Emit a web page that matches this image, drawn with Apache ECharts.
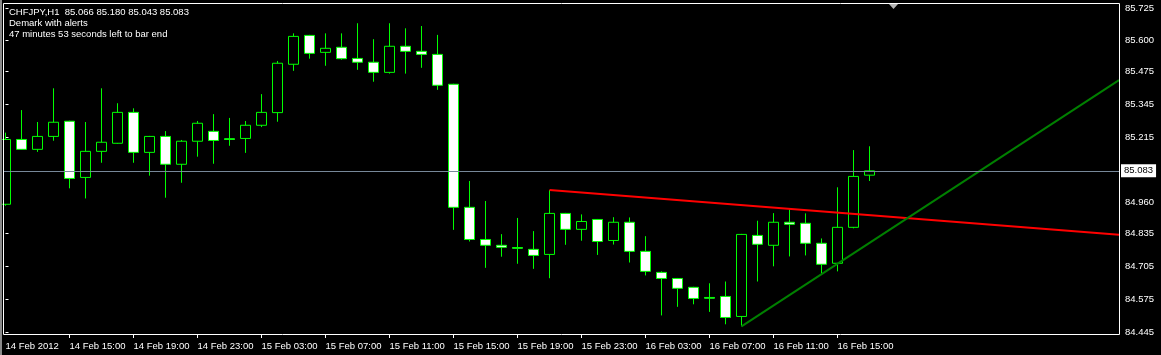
<!DOCTYPE html>
<html>
<head>
<meta charset="utf-8">
<script src="https://cdn.jsdelivr.net/npm/echarts@6/dist/echarts.min.js"></script>
<style>html,body{margin:0;padding:0;background:#000;}#c{width:1161px;height:355px;}</style>
</head>
<body>
<div id="c"></div>
<script>
// Bar times (H1), index 0 = 14 Feb 2012 11:00
const categories = [
 '14 Feb 11:00','14 Feb 12:00','14 Feb 13:00','14 Feb 14:00','14 Feb 15:00','14 Feb 16:00','14 Feb 17:00','14 Feb 18:00',
 '14 Feb 19:00','14 Feb 20:00','14 Feb 21:00','14 Feb 22:00','14 Feb 23:00','15 Feb 00:00','15 Feb 01:00','15 Feb 02:00',
 '15 Feb 03:00','15 Feb 04:00','15 Feb 05:00','15 Feb 06:00','15 Feb 07:00','15 Feb 08:00','15 Feb 09:00','15 Feb 10:00',
 '15 Feb 11:00','15 Feb 12:00','15 Feb 13:00','15 Feb 14:00','15 Feb 15:00','15 Feb 16:00','15 Feb 17:00','15 Feb 18:00',
 '15 Feb 19:00','15 Feb 20:00','15 Feb 21:00','15 Feb 22:00','15 Feb 23:00','16 Feb 00:00','16 Feb 01:00','16 Feb 02:00',
 '16 Feb 03:00','16 Feb 04:00','16 Feb 05:00','16 Feb 06:00','16 Feb 07:00','16 Feb 08:00','16 Feb 09:00','16 Feb 10:00',
 '16 Feb 11:00','16 Feb 12:00','16 Feb 13:00','16 Feb 14:00','16 Feb 15:00','16 Feb 16:00','16 Feb 17:00'
];
const opens = [
 84.951,85.207,85.168,85.219,85.279,85.057,85.160,85.192,85.314,85.156,
 85.219,85.109,85.200,85.239,85.210,85.211,85.263,85.313,85.504,85.618,
 85.551,85.571,85.527,85.512,85.472,85.575,85.555,85.543,85.425,84.939,
 84.812,84.789,84.780,84.773,84.753,84.915,84.852,84.891,84.808,84.880,
 84.765,84.682,84.658,84.623,84.583,84.587,84.508,84.828,84.789,84.880,
 84.876,84.797,84.718,84.860,85.066
];
const highs = [
 85.234,85.323,85.276,85.409,85.281,85.276,85.409,85.350,85.330,85.221,
 85.240,85.205,85.280,85.307,85.292,85.280,85.386,85.517,85.626,85.620,
 85.626,85.626,85.666,85.603,85.666,85.646,85.655,85.620,85.427,85.043,
 84.964,84.833,84.897,84.845,85.007,84.917,84.911,84.893,84.900,84.899,
 84.825,84.686,84.660,84.625,84.639,84.646,84.834,84.886,84.916,84.931,
 84.915,84.816,85.018,85.165,85.180
];
const lows = [
 84.945,85.166,85.158,85.202,85.014,84.974,85.115,85.190,85.115,85.064,
 84.977,85.036,85.139,85.111,85.182,85.154,85.256,85.277,85.478,85.526,
 85.498,85.522,85.482,85.435,85.467,85.467,85.490,85.403,84.850,84.804,
 84.700,84.744,84.716,84.696,84.659,84.791,84.807,84.751,84.792,84.721,
 84.670,84.512,84.546,84.556,84.526,84.477,84.469,84.646,84.706,84.745,
 84.749,84.678,84.686,84.856,85.043
];
const closes = [
 85.207,85.168,85.219,85.275,85.053,85.160,85.196,85.314,85.156,85.219,
 85.109,85.200,85.271,85.203,85.207,85.263,85.314,85.508,85.614,85.547,
 85.567,85.526,85.512,85.472,85.575,85.555,85.543,85.421,84.939,84.812,
 84.789,84.781,84.777,84.749,84.915,84.852,84.883,84.804,84.880,84.765,
 84.686,84.658,84.619,84.579,84.580,84.504,84.832,84.793,84.880,84.872,
 84.797,84.714,84.860,85.061,85.083
];
const tickIndex = [0,4,8,12,16,20,24,28,32,36,40,44,48,52];
const tickLabels = ['14 Feb 2012','14 Feb 15:00','14 Feb 19:00','14 Feb 23:00','15 Feb 03:00','15 Feb 07:00',
 '15 Feb 11:00','15 Feb 15:00','15 Feb 19:00','15 Feb 23:00','16 Feb 03:00','16 Feb 07:00','16 Feb 11:00','16 Feb 15:00'];
const priceTicks = [85.725,85.600,85.475,85.345,85.215,84.960,84.835,84.705,84.575,84.445];
// DeMark trend lines: two anchor points each [bar index, price]
const resistance = [[34,85.007],[49,84.9325]];
const support = [[46,84.469],[51,84.675]];

const X_MIN = -0.15625, X_MAX = 69.59375;
const Y_MIN = 84.43866, Y_MAX = 85.74593;
const lastClose = closes[closes.length-1];

function extend(line){
  const [a,b] = line;
  const k = (b[1]-a[1])/(b[0]-a[0]);
  return [a, [X_MAX, a[1] + k*(X_MAX-a[0])]];
}

const candleData = categories.map((c,i)=>[i, opens[i], closes[i], lows[i], highs[i]]);
const FONT = 'Liberation Sans, Arial, sans-serif';
const FS = 9.5;

const chart = echarts.init(document.getElementById('c'), null, {renderer:'canvas'});
chart.setOption({
  backgroundColor:'#000000',
  animation:false,
  grid:{left:3, top:3, width:1116, height:331, containLabel:false, outerBoundsMode:'none', show:false},
  xAxis:{
    type:'value', min:X_MIN, max:X_MAX,
    axisLine:{show:false},
    splitLine:{show:false},
    axisTick:{show:true, customValues:tickIndex.slice(1), length:4, lineStyle:{color:'#ffffff', width:1}},
    axisLabel:{show:true, customValues:tickIndex, align:'left', margin:7, color:'#ffffff',
      fontFamily:FONT, fontSize:FS,
      formatter:(v)=>{ const k = tickIndex.indexOf(Math.round(v)); return k>=0 ? tickLabels[k] : ''; }}
  },
  yAxis:{
    type:'value', position:'right', min:Y_MIN, max:Y_MAX, scale:true,
    axisLine:{show:false},
    splitLine:{show:false},
    axisTick:{show:true, customValues:priceTicks, length:3, lineStyle:{color:'#ffffff', width:1}},
    axisLabel:{show:true, customValues:priceTicks, margin:6, color:'#ffffff', fontFamily:FONT, fontSize:FS,
      formatter:(v)=>v.toFixed(3)}
  },
  series:[
    {
      type:'candlestick', name:'CHFJPY,H1',
      data:candleData,
      encode:{x:0, y:[1,2,3,4]},
      barWidth:10,
      clip:true,
      itemStyle:{color:'#000000', color0:'#ffffff', borderColor:'#00ff00', borderColor0:'#00ff00', borderColorDoji:'#00ff00', borderWidth:1},
      markLine:{
        silent:true, symbol:'none', animation:false, precision:3,
        lineStyle:{color:'#778899', width:1, type:'solid'},
        label:{show:true, position:'end', distance:2, formatter:()=>lastClose.toFixed(3),
          backgroundColor:'#ffffff', color:'#000000', padding:[2,3,1,3], fontFamily:FONT, fontSize:FS},
        data:[{yAxis:lastClose}]
      },
      z:2
    },
    {
      type:'line', name:'resistance', data:extend(resistance), symbol:'none', clip:true,
      lineStyle:{color:'#ff0000', width:2}, z:3
    },
    {
      type:'line', name:'support', data:extend(support), symbol:'none', clip:true,
      lineStyle:{color:'#008000', width:2}, z:3
    }
  ],
  graphic:[
    {type:'rect', shape:{x:0, y:0, width:2, height:355}, style:{fill:'#8a8a8a'}, z:100, silent:true},
    {type:'rect', shape:{x:3.5, y:3.5, width:1116, height:331}, style:{fill:null, stroke:'#ffffff', lineWidth:1}, z:100, silent:true},
    {type:'polygon', shape:{points:[[889,4],[898,4],[893.5,9]]}, style:{fill:'#b4b4b4'}, z:100, silent:true},
    {type:'text', x:9, y:12.5, style:{text:'CHFJPY,H1  85.066 85.180 85.043 85.083', fill:'#ffffff', font:FS+'px '+FONT, verticalAlign:'middle'}, z:100, silent:true},
    {type:'text', x:9, y:23.5, style:{text:'Demark with alerts', fill:'#ffffff', font:FS+'px '+FONT, verticalAlign:'middle'}, z:100, silent:true},
    {type:'text', x:9, y:34.5, style:{text:'47 minutes 53 seconds left to bar end', fill:'#ffffff', font:FS+'px '+FONT, verticalAlign:'middle'}, z:100, silent:true}
  ]
});
</script>
</body>
</html>
